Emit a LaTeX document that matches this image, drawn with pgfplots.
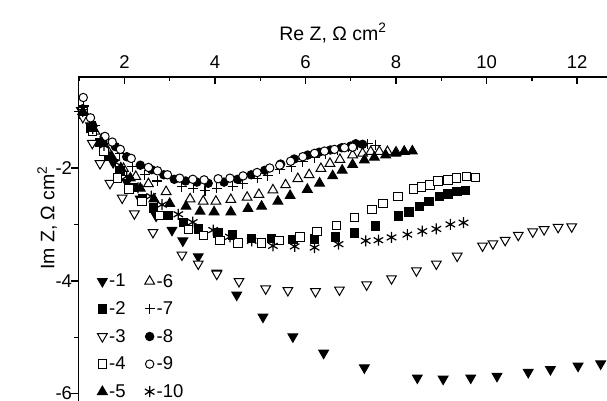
\documentclass[border=0pt]{standalone}
\usepackage{fontspec}
\setmainfont{Liberation Sans}
\usepackage{pgfplots}
\pgfplotsset{compat=1.18}
\begin{document}
\begin{tikzpicture}
\begin{axis}[
 name=ax,
 scale only axis,
 width=528.5pt, height=324pt,
 xmin=0.985, xmax=12.66, ymin=-6.131, ymax=-0.386,
 axis x line*=top, axis y line*=left,
 axis line style={line width=1.4pt},
 xtick={2,4,6,8,10,12}, xticklabels={2,4,6,8,10,12},
 minor xtick={1,3,5,7,9,11},
 ytick={-6,-4,-2}, yticklabels={-6,-4,-2},
 minor ytick={-5,-3,-1},
 xtick align=inside, ytick align=outside,
 major tick length=7pt, minor tick length=4.5pt,
 tick style={line width=1.4pt, black},
 tick label style={font=\fontsize{18.5}{22}\selectfont},
 xticklabel style={yshift=5pt},
 yticklabel style={xshift=4pt},
 xlabel={Re Z, Ω cm\textsuperscript{2}},
 ylabel={Im Z, Ω cm\textsuperscript{2}},
 label style={font=\fontsize{19.5}{23}\selectfont},
 xlabel style={at={(axis description cs:0.4815,1.136)}, anchor=center},
 ylabel style={at={(axis description cs:-0.0596,0.565)}, anchor=center},
 legend columns=2,
 legend cell align=left,
 legend image code/.code={\draw[#1] plot coordinates {(0pt,0pt)};},
 legend style={draw=none, fill=none, inner sep=0pt, outer sep=0pt,
   at={(axis description cs:0.036,0.412)}, anchor=north west,
   font=\fontsize{18.5}{22}\selectfont, row sep=0pt, column sep=2pt,
   nodes={inner sep=0pt, minimum height=27.6pt},
   /tikz/every even column/.append style={column sep=19pt}},
]
% series 1
\addplot[only marks, mark=triangle*, mark size=5.6pt, mark options={rotate=180, draw=black, fill=black, line width=1pt}] coordinates {
(1.05,-0.98) (1.25,-1.25) (1.5,-1.58) (1.75,-1.9) (2.05,-2.25) (2.35,-2.55) (2.7,-2.85) (3.05,-3.1) (3.29,-3.29) (3.63,-3.57) (4.04,-3.86) (4.48,-4.25) (5.06,-4.64) (5.72,-4.99) (6.40,-5.28) (7.30,-5.54) (8.47,-5.72) (9.04,-5.74) (9.65,-5.72) (10.23,-5.69) (10.92,-5.62) (11.41,-5.57) (12.02,-5.51) (12.52,-5.47)};
\addlegendentry{-1}
% series 6
\addplot[only marks, mark=triangle*, mark size=5.6pt, mark options={draw=black, fill=white, line width=1pt}] coordinates {
(1.1,-1.0) (1.35,-1.35) (1.6,-1.65) (1.98,-2.01) (2.25,-2.15) (2.53,-2.28) (2.92,-2.42) (3.45,-2.55) (3.74,-2.59) (4.02,-2.59) (4.35,-2.56) (4.71,-2.52) (4.97,-2.47) (5.28,-2.39) (5.56,-2.30) (5.83,-2.19) (6.08,-2.12) (6.34,-2.01) (6.54,-1.92) (6.76,-1.85) (7.04,-1.77) (7.26,-1.74) (7.44,-1.71) (7.63,-1.71) (7.81,-1.71) (8.0,-1.72) (8.18,-1.71)};
\addlegendentry{-6}
% series 2
\addplot[only marks, mark=square*, mark size=4.2pt, mark options={draw=black, fill=black, line width=1pt}] coordinates {
(1.08,-1.05) (1.25,-1.3) (1.45,-1.55) (1.65,-1.8) (1.9,-2.05) (2.2,-2.35) (2.4,-2.55) (2.64,-2.71) (2.97,-2.84) (3.30,-2.97) (3.63,-3.08) (4.07,-3.15) (4.39,-3.19) (4.81,-3.25) (5.25,-3.25) (5.72,-3.27) (6.20,-3.26) (6.66,-3.22) (7.08,-3.15) (7.54,-3.03) (8.05,-2.85) (8.29,-2.78) (8.52,-2.68) (8.73,-2.59) (8.96,-2.50) (9.15,-2.46) (9.35,-2.42) (9.53,-2.40)};
\addlegendentry{-2}
% series 7
\addplot[only marks, mark=+, mark size=5pt, mark options={draw=black, line width=1.1pt}] coordinates {
(1.1,-0.9) (1.35,-1.25) (1.6,-1.5) (1.9,-1.75) (2.17,-1.98) (2.45,-2.12) (2.73,-2.23) (3.27,-2.33) (3.52,-2.36) (3.78,-2.40) (4.04,-2.36) (4.39,-2.32) (4.61,-2.28) (4.93,-2.18) (5.17,-2.14) (5.43,-2.02) (5.69,-1.98) (5.94,-1.89) (6.2,-1.82) (6.45,-1.75) (6.7,-1.68) (6.95,-1.63) (7.15,-1.6) (7.37,-1.57) (7.55,-1.60)};
\addlegendentry{-7}
% series 3
\addplot[only marks, mark=triangle*, mark size=5.6pt, mark options={rotate=180, draw=black, fill=white, line width=1pt}] coordinates {
(1.08,-1.1) (1.29,-1.56) (1.46,-1.92) (1.68,-2.27) (1.95,-2.53) (2.22,-2.81) (2.63,-3.14) (3.27,-3.54) (3.63,-3.70) (4.04,-3.88) (4.53,-4.01) (5.12,-4.14) (5.61,-4.17) (6.22,-4.19) (6.75,-4.16) (7.35,-4.07) (7.90,-3.96) (8.45,-3.82) (8.89,-3.70) (9.35,-3.56) (9.91,-3.38) (10.14,-3.34) (10.41,-3.28) (10.70,-3.19) (11.02,-3.13) (11.27,-3.09) (11.58,-3.05) (11.88,-3.04)};
\addlegendentry{-3}
% series 8
\addplot[only marks, mark=*, mark size=4.2pt, mark options={draw=black, fill=black, line width=1pt}] coordinates {
(1.08,-0.95) (1.3,-1.25) (1.55,-1.45) (1.8,-1.62) (2.05,-1.8) (2.35,-1.95) (2.6,-2.03) (2.87,-2.12) (3.1,-2.2) (3.35,-2.23) (3.6,-2.25) (3.85,-2.27) (4.2,-2.25) (4.5,-2.2) (4.8,-2.12) (5.1,-2.04) (5.45,-1.93) (5.75,-1.84) (6.05,-1.77) (6.3,-1.72) (6.55,-1.68) (6.8,-1.64) (7.0,-1.61) (7.11,-1.57) (7.26,-1.58)};
\addlegendentry{-8}
% series 4
\addplot[only marks, mark=square*, mark size=4.2pt, mark options={draw=black, fill=white, line width=1pt}] coordinates {
(1.08,-1.0) (1.3,-1.35) (1.55,-1.7) (1.84,-2.18) (2.10,-2.37) (2.39,-2.59) (2.78,-2.84) (3.41,-3.09) (3.74,-3.2) (4.11,-3.29) (4.51,-3.33) (5.03,-3.33) (5.41,-3.29) (5.88,-3.22) (6.25,-3.13) (6.69,-3.02) (7.08,-2.88) (7.47,-2.74) (7.71,-2.63) (8.04,-2.50) (8.38,-2.37) (8.56,-2.34) (8.75,-2.30) (8.93,-2.23) (9.15,-2.21) (9.33,-2.18) (9.55,-2.15) (9.75,-2.17)};
\addlegendentry{-4}
% series 9
\addplot[only marks, mark=*, mark size=4.2pt, mark options={draw=black, fill=white, line width=1pt}] coordinates {
(1.09,-0.75) (1.25,-1.11) (1.57,-1.44) (1.73,-1.54) (1.91,-1.67) (2.15,-1.83) (2.53,-1.99) (2.73,-2.05) (2.95,-2.12) (3.22,-2.18) (3.51,-2.20) (3.76,-2.21) (4.07,-2.19) (4.33,-2.18) (4.62,-2.14) (4.93,-2.08) (5.21,-2.0) (5.43,-1.95) (5.67,-1.88) (5.94,-1.80) (6.20,-1.74) (6.42,-1.70) (6.64,-1.67) (6.86,-1.64) (7.04,-1.63)};
\addlegendentry{-9}
% series 5
\addplot[only marks, mark=triangle*, mark size=5.6pt, mark options={draw=black, fill=black, line width=1pt}] coordinates {
(1.08,-1.0) (1.3,-1.3) (1.5,-1.55) (1.72,-1.8) (1.92,-2.0) (2.13,-2.18) (2.35,-2.36) (2.65,-2.55) (3.0,-2.63) (3.36,-2.68) (3.67,-2.77) (3.98,-2.78) (4.35,-2.78) (4.73,-2.72) (5.03,-2.68) (5.39,-2.59) (5.66,-2.49) (6.04,-2.38) (6.31,-2.27) (6.60,-2.14) (6.81,-2.04) (7.04,-1.94) (7.30,-1.86) (7.52,-1.81) (7.77,-1.77) (7.99,-1.74) (8.18,-1.71) (8.36,-1.70)};
\addlegendentry{-5}
% series 10
\addplot[only marks, mark=asterisk, mark size=5.5pt, mark options={draw=black, line width=1.2pt}] coordinates {
(1.08,-1.0) (1.3,-1.3) (1.55,-1.6) (1.8,-1.9) (2.05,-2.15) (2.3,-2.35) (2.59,-2.5) (2.83,-2.65) (3.19,-2.82) (3.51,-2.96) (3.96,-3.10) (4.33,-3.22) (4.81,-3.29) (5.28,-3.38) (5.76,-3.39) (6.20,-3.41) (6.73,-3.35) (7.33,-3.29) (7.61,-3.28) (7.90,-3.23) (8.25,-3.18) (8.58,-3.12) (8.89,-3.08) (9.20,-3.0) (9.49,-2.97)};
\addlegendentry{-10}
\end{axis}
\pgfresetboundingbox
\path[use as bounding box] ([xshift=-78.5pt]ax.south west) rectangle ([yshift=77pt]ax.north east);
\end{tikzpicture}
\end{document}
